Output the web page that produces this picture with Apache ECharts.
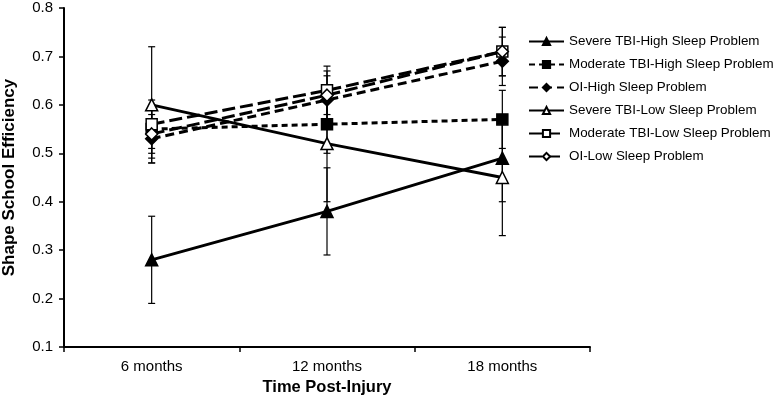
<!DOCTYPE html>
<html>
<head>
<meta charset="utf-8">
<script src="https://cdn.jsdelivr.net/npm/echarts@6/dist/echarts.min.js"></script>
<style>html,body{margin:0;padding:0;background:#fff;}#c{width:780px;height:401px;}</style>
</head>
<body>
<div id="c"></div>
<script>
const categories = ['6 months', '12 months', '18 months'];
const seriesNames = ['Severe TBI-High Sleep Problem', 'Moderate TBI-High Sleep Problem', 'OI-High Sleep Problem', 'Severe TBI-Low Sleep Problem', 'Moderate TBI-Low Sleep Problem', 'OI-Low Sleep Problem'];
const severeHigh = [0.28, 0.38, 0.49];
const moderateHigh = [0.55, 0.56, 0.57];
const oiHigh = [0.53, 0.61, 0.69];
const severeLow = [0.60, 0.52, 0.45];
const moderateLow = [0.56, 0.63, 0.71];
const oiLow = [0.54, 0.62, 0.71];
const severeHighErr = [0.09, 0.09, 0.09];
const moderateHighErr = [0.05, 0.06, 0.06];
const oiHighErr = [0.05, 0.05, 0.05];
const severeLowErr = [0.12, 0.12, 0.12];
const moderateLowErr = [0.05, 0.05, 0.05];
const oiLowErr = [0.05, 0.05, 0.05];
const yTicks = [0.1, 0.8, 0.1]; // min, max, interval

const values = [severeHigh, moderateHigh, oiHigh, severeLow, moderateLow, oiLow];
const errors = [severeHighErr, moderateHighErr, oiHighErr, severeLowErr, moderateLowErr, oiLowErr];
const styles = [
  {symbol: 'triangle', size: 12, fill: '#000', dash: 'solid'},
  {symbol: 'rect', size: 11, fill: '#000', dash: [6, 4]},
  {symbol: 'diamond', size: 12, fill: '#000', dash: [9, 5]},
  {symbol: 'triangle', size: 12, fill: '#fff', dash: 'solid'},
  {symbol: 'rect', size: 11, fill: '#fff', dash: [13, 5]},
  {symbol: 'diamond', size: 12, fill: '#fff', dash: [13, 5]}
];

const font = 'Liberation Sans, Arial, sans-serif';
const series = [];
values.forEach(function (vals, si) {
  const data = vals.map(function (v, i) { return [i, v - errors[si][i], v + errors[si][i]]; });
  series.push({
    type: 'custom',
    name: 'err' + si,
    z: 1,
    silent: true,
    renderItem: function (params, api) {
      const x = api.value(0);
      const lo = api.coord([x, api.value(1)]);
      const hi = api.coord([x, api.value(2)]);
      const w = 3.5;
      const st = {stroke: '#000', lineWidth: 1.2};
      return {
        type: 'group',
        children: [
          {type: 'line', shape: {x1: lo[0], y1: lo[1], x2: hi[0], y2: hi[1]}, style: st},
          {type: 'line', shape: {x1: lo[0] - w, y1: lo[1], x2: lo[0] + w, y2: lo[1]}, style: st},
          {type: 'line', shape: {x1: hi[0] - w, y1: hi[1], x2: hi[0] + w, y2: hi[1]}, style: st}
        ]
      };
    },
    data: data
  });
});
values.forEach(function (vals, si) {
  const s = styles[si];
  series.push({
    type: 'line',
    name: seriesNames[si],
    z: 3,
    data: vals,
    symbol: s.symbol,
    symbolSize: s.size,
    showAllSymbol: true,
    lineStyle: {color: '#000', width: 3, type: s.dash},
    itemStyle: {color: s.fill, borderColor: '#000', borderWidth: 1.5},
    emphasis: {disabled: true}
  });
});

const chart = echarts.init(document.getElementById('c'));
chart.setOption({
  animation: false,
  backgroundColor: '#fff',
  grid: {left: 64, right: 190, top: 8, bottom: 54, containLabel: false, outerBoundsMode: 'none'},
  legend: {
    orient: 'vertical',
    left: 528,
    top: 35,
    padding: 0,
    itemWidth: 35,
    itemHeight: 9,
    itemGap: 10,
    data: seriesNames,
    textStyle: {fontFamily: font, fontSize: 13.4, color: '#000'}
  },
  xAxis: {
    type: 'category',
    data: categories,
    boundaryGap: true,
    name: 'Time Post-Injury',
    nameLocation: 'middle',
    nameGap: 27,
    nameTextStyle: {fontFamily: font, fontSize: 16.5, fontWeight: 'bold', color: '#000'},
    axisLine: {lineStyle: {color: '#000', width: 2}},
    axisTick: {show: true, inside: false, length: 5, lineStyle: {color: '#000', width: 1.5}},
    axisLabel: {fontFamily: font, fontSize: 15, color: '#000', margin: 12},
    splitLine: {show: false}
  },
  yAxis: {
    type: 'value',
    min: yTicks[0],
    max: yTicks[1],
    interval: yTicks[2],
    name: 'Shape School Efficiency',
    nameLocation: 'middle',
    nameGap: 46,
    nameTextStyle: {fontFamily: font, fontSize: 17, fontWeight: 'bold', color: '#000'},
    axisLine: {show: true, lineStyle: {color: '#000', width: 2}},
    axisTick: {show: true, length: 5, lineStyle: {color: '#000', width: 1.5}},
    axisLabel: {fontFamily: font, fontSize: 15, color: '#000', margin: 11, formatter: function (v) { return v.toFixed(1); }},
    splitLine: {show: false}
  },
  series: series
});
</script>
</body>
</html>
